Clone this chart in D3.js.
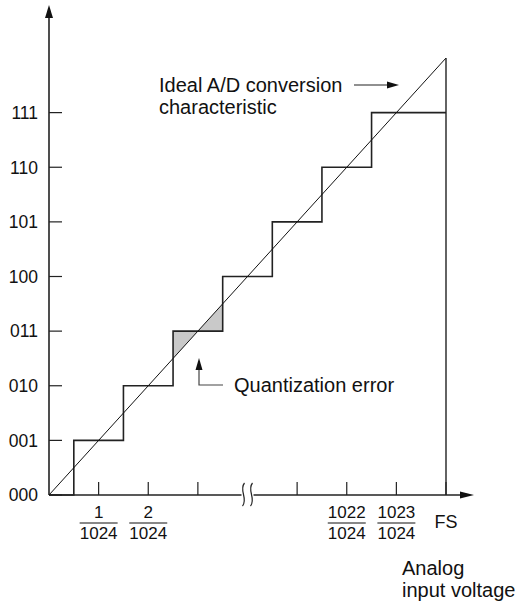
<!DOCTYPE html>
<html>
<head>
<meta charset="utf-8">
<script src="https://cdn.jsdelivr.net/npm/d3@7"></script>
<style>
html,body{margin:0;padding:0;background:#fff;}
svg{display:block;}
text{font-family:"Liberation Sans",Arial,sans-serif;fill:#111;}
</style>
</head>
<body>
<svg id="chart" width="516" height="610"></svg>
<script>
// ---- data ----
const codes = ["000","001","010","011","100","101","110","111"];
const stepEdges = [0.5,1.5,2.5,3.5,4.5,5.5,6.5];      // transition points (LSB units)
const fullScale = 8;                                    // FS in LSB units (compressed axis)
const xTickPos = [1,2,3,5,6,7,8];
const fracLabels = [
  {pos:1, num:"1",    den:"1024"},
  {pos:2, num:"2",    den:"1024"},
  {pos:6, num:"1022", den:"1024"},
  {pos:7, num:"1023", den:"1024"}
];
const fsLabel = {pos:8, text:"FS"};
const breakPos = 4;
const errorCode = 3;   // highlighted quantization error at code 011

const svg = d3.select("#chart");
const x = d3.scaleLinear().domain([0,8]).range([49,446]);
const y = d3.scaleLinear().domain([0,8]).range([495,58]);
const ink = "#222";

function arrow(tipX,tipY,dir,len,half){
  let pts;
  if(dir==="up") pts=[[tipX,tipY],[tipX-half,tipY+len],[tipX+half,tipY+len]];
  if(dir==="right") pts=[[tipX,tipY],[tipX-len,tipY-half],[tipX-len,tipY+half]];
  svg.append("path").attr("d","M"+pts.map(p=>p.join(",")).join("L")+"Z").attr("fill","#111");
}

// quantization error shading
const lvl = errorCode;
const a = stepEdges[lvl-1], b = stepEdges[lvl];
const shade = [
  [[a,a],[a,lvl],[lvl,lvl]],
  [[lvl,lvl],[b,lvl],[b,b]]
];
svg.selectAll(".shade").data(shade).enter().append("path")
  .attr("d",d=>"M"+d.map(p=>[x(p[0]),y(p[1])].join(",")).join("L")+"Z")
  .attr("fill","#c9c9c9").attr("stroke","none");

// y axis
svg.append("line").attr("x1",x(0)).attr("x2",x(0)).attr("y1",y(0)).attr("y2",14)
  .attr("stroke",ink).attr("stroke-width",1.6);
arrow(x(0),5,"up",13,4);

// x axis with break
const bx = x(breakPos);
svg.append("line").attr("x1",x(0)).attr("x2",bx-6).attr("y1",y(0)).attr("y2",y(0))
  .attr("stroke",ink).attr("stroke-width",1.6);
svg.append("line").attr("x1",bx+6).attr("x2",462).attr("y1",y(0)).attr("y2",y(0))
  .attr("stroke",ink).attr("stroke-width",1.6);
arrow(474,y(0),"right",14,3.5);
[-4,4].forEach(o=>{
  const cx = bx+o;
  svg.append("path")
    .attr("d",`M${cx+1},${y(0)-12} C${cx-5},${y(0)-5} ${cx+5},${y(0)+4} ${cx-1},${y(0)+11}`)
    .attr("fill","none").attr("stroke",ink).attr("stroke-width",1.2);
});

// y ticks + labels
svg.selectAll(".ytick").data(codes).enter().append("line")
  .attr("x1",x(0)).attr("x2",x(0)+13).attr("y1",(d,i)=>y(i)).attr("y2",(d,i)=>y(i))
  .attr("stroke",ink).attr("stroke-width",1.2);
svg.selectAll(".ylab").data(codes).enter().append("text")
  .attr("x",38).attr("y",(d,i)=>y(i)).attr("dy","0.36em").attr("text-anchor","end")
  .attr("font-size",17.5).text(d=>d);

// x ticks
svg.selectAll(".xtick").data(xTickPos).enter().append("line")
  .attr("x1",d=>x(d)).attr("x2",d=>x(d)).attr("y1",y(0)).attr("y2",y(0)-13)
  .attr("stroke",ink).attr("stroke-width",1.2);

// fraction labels
const fg = svg.selectAll(".frac").data(fracLabels).enter().append("g")
  .attr("transform",d=>`translate(${x(d.pos)},0)`);
fg.append("text").attr("y",518).attr("text-anchor","middle").attr("font-size",17).text(d=>d.num);
fg.append("line").attr("x1",-19).attr("x2",19).attr("y1",523).attr("y2",523)
  .attr("stroke","#111").attr("stroke-width",1);
fg.append("text").attr("y",539).attr("text-anchor","middle").attr("font-size",17).text(d=>d.den);
svg.append("text").attr("x",x(fsLabel.pos)).attr("y",528).attr("text-anchor","middle")
  .attr("font-size",18).text(fsLabel.text);

// staircase
const stair = [[0,0]];
stepEdges.forEach((e,i)=>{ stair.push([e,i]); stair.push([e,i+1]); });
stair.push([fullScale,codes.length-1]);
svg.append("path").datum(stair)
  .attr("d",d3.line().x(d=>x(d[0])).y(d=>y(d[1])))
  .attr("fill","none").attr("stroke",ink).attr("stroke-width",1.6);

// ideal characteristic
svg.append("path").datum([[0,0],[fullScale,fullScale]])
  .attr("d",d3.line().x(d=>x(d[0])).y(d=>y(d[1])))
  .attr("fill","none").attr("stroke","#111").attr("stroke-width",1);
svg.append("line").attr("x1",x(fullScale)).attr("x2",x(fullScale)).attr("y1",y(fullScale)).attr("y2",y(0))
  .attr("stroke",ink).attr("stroke-width",1.4);

// annotations
const t1 = svg.append("text").attr("x",159).attr("y",92).attr("font-size",20);
t1.append("tspan").attr("x",159).text("Ideal A/D conversion");
t1.append("tspan").attr("x",159).attr("dy",22).text("characteristic");
svg.append("line").attr("x1",354).attr("x2",388).attr("y1",85).attr("y2",85).attr("stroke",ink).attr("stroke-width",1.2);
arrow(399,85,"right",12,3.5);

svg.append("path").attr("d","M223,385 H199 V368").attr("fill","none").attr("stroke","#444").attr("stroke-width",1.2);
arrow(199,358,"up",12,3.5);
svg.append("text").attr("x",234).attr("y",392).attr("font-size",20).text("Quantization error");

const t2 = svg.append("text").attr("x",402).attr("y",575).attr("font-size",20);
t2.append("tspan").attr("x",402).text("Analog");
t2.append("tspan").attr("x",402).attr("dy",22).text("input voltage");
</script>
</body>
</html>
